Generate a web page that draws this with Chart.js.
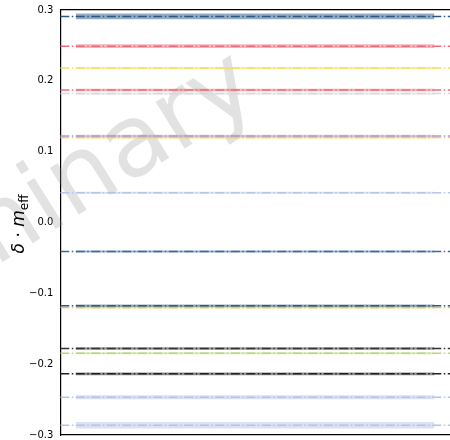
<!DOCTYPE html>
<html>
<head>
<meta charset="utf-8">
<script src="https://cdn.jsdelivr.net/npm/chart.js@4.4.1/dist/chart.umd.min.js"></script>
<style>
  html, body { margin: 0; padding: 0; background: #fff; }
  #wrap { width: 450px; height: 440px; }
</style>
</head>
<body>
<div id="wrap"><canvas id="c" width="450" height="440"></canvas></div>
<script>
// horizontal levels (top to bottom)
const levels = [0.291, 0.249, 0.218, 0.187, 0.182, 0.122, 0.120, 0.042, -0.041, -0.1175, -0.120, -0.178, -0.1845, -0.2137, -0.2467, -0.2863];
const halfWidths = [0.0042, 0.0028, 0.0015, 0.0018, 0.0015, 0.0018, 0.0015, 0.0015, 0.0015, 0.0018, 0.0015, 0.0018, 0.0015, 0.0018, 0.0028, 0.0045];
const colors = ['#2b5883', '#ee6b7e', '#f3df55', '#ee6b7e', '#d9d9d9', '#b898c6', '#f0cf55',
                '#b6c5ea', '#3a6a98', '#2f5b7c', '#e9c25e', '#333333', '#b9d77a', '#222222', '#b3c3ea', '#b3c3ea'];
const bandStart = 0.04;
const bandEnd = 0.96;
const yTicks = [-0.3, -0.2, -0.1, 0.0, 0.1, 0.2, 0.3];

function alpha(hex, a) {
  const n = parseInt(hex.slice(1), 16);
  return `rgba(${(n >> 16) & 255}, ${(n >> 8) & 255}, ${n & 255}, ${a})`;
}

const datasets = [];
levels.forEach((v, i) => {
  // band: upper edge filled down to lower edge
  datasets.push({
    data: [{x: bandStart, y: v + halfWidths[i]}, {x: bandEnd, y: v + halfWidths[i]}],
    borderWidth: 0, pointRadius: 0, fill: '+1',
    backgroundColor: alpha(colors[i], 0.5), order: 2
  });
  datasets.push({
    data: [{x: bandStart, y: v - halfWidths[i]}, {x: bandEnd, y: v - halfWidths[i]}],
    borderWidth: 0, pointRadius: 0, fill: false, order: 2
  });
  // dash-dot line
  datasets.push({
    data: [{x: 0, y: v}, {x: 1, y: v}],
    borderColor: colors[i], borderWidth: 1.5, borderDash: [9, 2.5, 1.5, 2.5],
    pointRadius: 0, fill: false, order: 1
  });
});

const watermark = {
  id: 'watermark',
  beforeDatasetsDraw(chart) {
    const ctx = chart.ctx;
    ctx.save();
    ctx.translate(262, 100);
    ctx.rotate(-32 * Math.PI / 180);
    ctx.font = '100px "DejaVu Sans"';
    ctx.fillStyle = 'rgba(140, 140, 140, 0.25)';
    ctx.textAlign = 'right';
    ctx.textBaseline = 'alphabetic';
    ctx.fillText('Preliminary', 0, 0);
    ctx.restore();
  }
};

const yLabel = {
  id: 'yLabel',
  afterDraw(chart) {
    const ctx = chart.ctx;
    ctx.save();
    ctx.translate(24, 224);
    ctx.rotate(-Math.PI / 2);
    ctx.fillStyle = '#000';
    ctx.textBaseline = 'alphabetic';
    const main = 'italic 17px "DejaVu Sans"';
    const sub = '12px "DejaVu Sans"';
    const parts = [['δ', main, 0], [' · ', '17px "DejaVu Sans"', 0], ['m', main, 0], ['eff', sub, 4]];
    let w = 0;
    parts.forEach(p => { ctx.font = p[1]; w += ctx.measureText(p[0]).width; });
    let x = -w / 2;
    parts.forEach(p => {
      ctx.font = p[1];
      ctx.fillText(p[0], x, p[2]);
      x += ctx.measureText(p[0]).width;
    });
    ctx.restore();
  }
};

new Chart(document.getElementById('c'), {
  type: 'line',
  data: { datasets },
  options: {
    responsive: false,
    animation: false,
    layout: { padding: { left: 26, top: 10, bottom: 5, right: 0 } },
    plugins: { legend: { display: false }, tooltip: { enabled: false } },
    scales: {
      x: {
        type: 'linear', min: 0, max: 1,
        grid: { display: false, drawTicks: false },
        ticks: { display: false },
        border: { display: true, color: '#000', width: 1.2 }
      },
      x2: {
        type: 'linear', position: 'top', min: 0, max: 1,
        grid: { display: false, drawTicks: false },
        ticks: { display: false },
        border: { display: true, color: '#000', width: 1.2 }
      },
      y: {
        min: -0.3, max: 0.3,
        afterBuildTicks: s => { s.ticks = yTicks.map(v => ({ value: v })); },
        afterFit: s => { s.paddingTop = 0; s.paddingBottom = 0; },
        grid: { display: false, drawTicks: true, tickLength: 4, tickColor: '#000' },
        border: { display: true, color: '#000', width: 1.2 },
        ticks: {
          color: '#000', padding: 3,
          font: { family: 'DejaVu Sans', size: 10 },
          callback: v => v.toFixed(1).replace('-', '\u2212')
        }
      }
    }
  },
  plugins: [watermark, yLabel]
});
</script>
</body>
</html>
